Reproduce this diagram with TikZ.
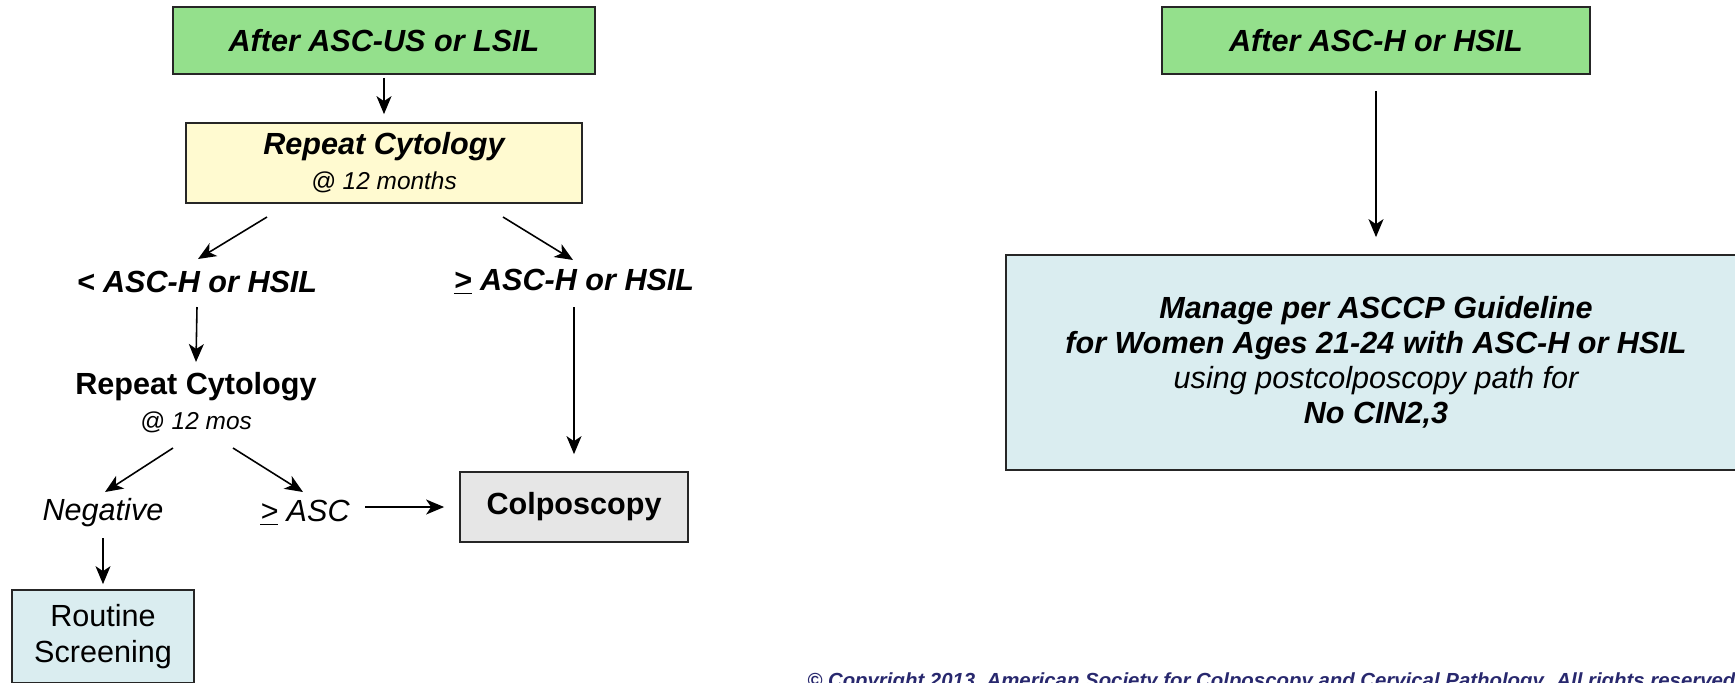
\documentclass[tikz,border=0pt]{standalone}
\usepackage{fontspec}
\setmainfont{Liberation Sans}
\usetikzlibrary{arrows.meta}
\pgfdeclarelayer{edgelayer}
\pgfdeclarelayer{nodelayer}
\pgfsetlayers{edgelayer,nodelayer,main}
\definecolor{boxgreen}{RGB}{148,224,140}
\definecolor{boxyellow}{RGB}{255,250,208}
\definecolor{boxblue}{RGB}{218,237,240}
\definecolor{boxgrey}{RGB}{230,230,230}
\definecolor{notenavy}{RGB}{40,40,110}
\newcommand{\bigtext}{\fontsize{17.4}{19.9}\selectfont}
\newcommand{\smalltext}{\fontsize{13.9}{16}\selectfont}
\tikzstyle{box}=[rectangle,draw=black!85,line width=1pt,inner sep=0pt,align=center,font=\bigtext]
\tikzstyle{result}=[inner sep=0pt,align=center,font=\bigtext\bfseries\itshape]
\tikzstyle{transition}=[-{Stealth[length=3.6mm,width=3mm,inset=1mm]},draw=black,line width=0.9pt]

\begin{document}
\begin{tikzpicture}
	\useasboundingbox (0,0) rectangle (34.7,-13.64);
	\begin{pgfonlayer}{nodelayer}
		\node [style=box, fill=boxgreen, minimum width=8.44cm, minimum height=1.34cm] (0) at (7.68, -0.81) {\bfseries\itshape After ASC-US or LSIL};
		\node [style=box, fill=boxyellow, minimum width=7.92cm, minimum height=1.6cm] (1) at (7.68, -3.26) {{\bfseries\itshape Repeat Cytology}\\{\smalltext\itshape @ 12 months}};
		\node [style=result] (2) at (3.94, -5.64) {< ASC-H or HSIL};
		\node [style=result] (3) at (11.48, -5.64) {\underline{>} ASC-H or HSIL};
		\node [style=result] (4) at (3.92, -8.05) {\upshape Repeat Cytology\\{\smalltext\mdseries\itshape @ 12 mos}};
		\node [style=result, font=\bigtext\itshape] (5) at (2.06, -10.26) {Negative};
		\node [style=result, font=\bigtext\itshape] (6) at (6.1, -10.26) {\underline{>} ASC};
		\node [style=box, fill=boxgrey, minimum width=4.56cm, minimum height=1.4cm] (7) at (11.48, -10.14) {\bfseries Colposcopy};
		\node [style=box, fill=boxblue, minimum width=3.64cm, minimum height=1.86cm] (8) at (2.06, -12.73) {Routine\\[1pt]Screening};
		\node [style=box, fill=boxgreen, minimum width=8.56cm, minimum height=1.34cm] (9) at (27.52, -0.81) {\bfseries\itshape After ASC-H or HSIL};
		\node [style=box, fill=boxblue, minimum width=14.8cm, minimum height=4.3cm, font=\bigtext\bfseries\itshape] (10) at (27.52, -7.25) {Manage per ASCCP Guideline\\for Women Ages 21-24 with ASC-H or HSIL\\{\mdseries using postcolposcopy path for}\\No CIN2,3};
		\node [anchor=base west, inner sep=0pt, text=notenavy, font=\fontsize{11.6}{13}\selectfont\bfseries\itshape] (11) at (16.14, -13.74) {© Copyright 2013, American Society for Colposcopy and Cervical Pathology. All rights reserved.};
	\end{pgfonlayer}
	\begin{pgfonlayer}{edgelayer}
		\draw [style=transition] ([yshift=-0.06cm]0.south) to ([yshift=0.16cm]1.north);
		\draw [style=transition] ([shift={(-2.34,-1.08)}]1.center) to ([shift={(0.02,0.46)}]2.center);
		\draw [style=transition] ([shift={(2.38,-1.08)}]1.center) to ([shift={(-0.02,0.44)}]3.center);
		\draw [style=transition] ([yshift=-0.5cm]2.center) to ([yshift=0.81cm]4.center);
		\draw [style=transition] ([shift={(-0.46,-0.91)}]4.center) to ([shift={(0.04,0.42)}]5.center);
		\draw [style=transition] ([shift={(0.74,-0.91)}]4.center) to ([shift={(-0.04,0.42)}]6.center);
		\draw [style=transition] ([shift={(1.2,0.12)}]6.center) to ([xshift=-0.3cm]7.west);
		\draw [style=transition] ([yshift=-0.5cm]3.center) to ([yshift=0.34cm]7.north);
		\draw [style=transition] ([yshift=-0.5cm]5.center) to ([yshift=0.1cm]8.north);
		\draw [style=transition] ([yshift=-0.32cm]9.south) to ([yshift=0.34cm]10.north);
	\end{pgfonlayer}
\end{tikzpicture}
\end{document}
